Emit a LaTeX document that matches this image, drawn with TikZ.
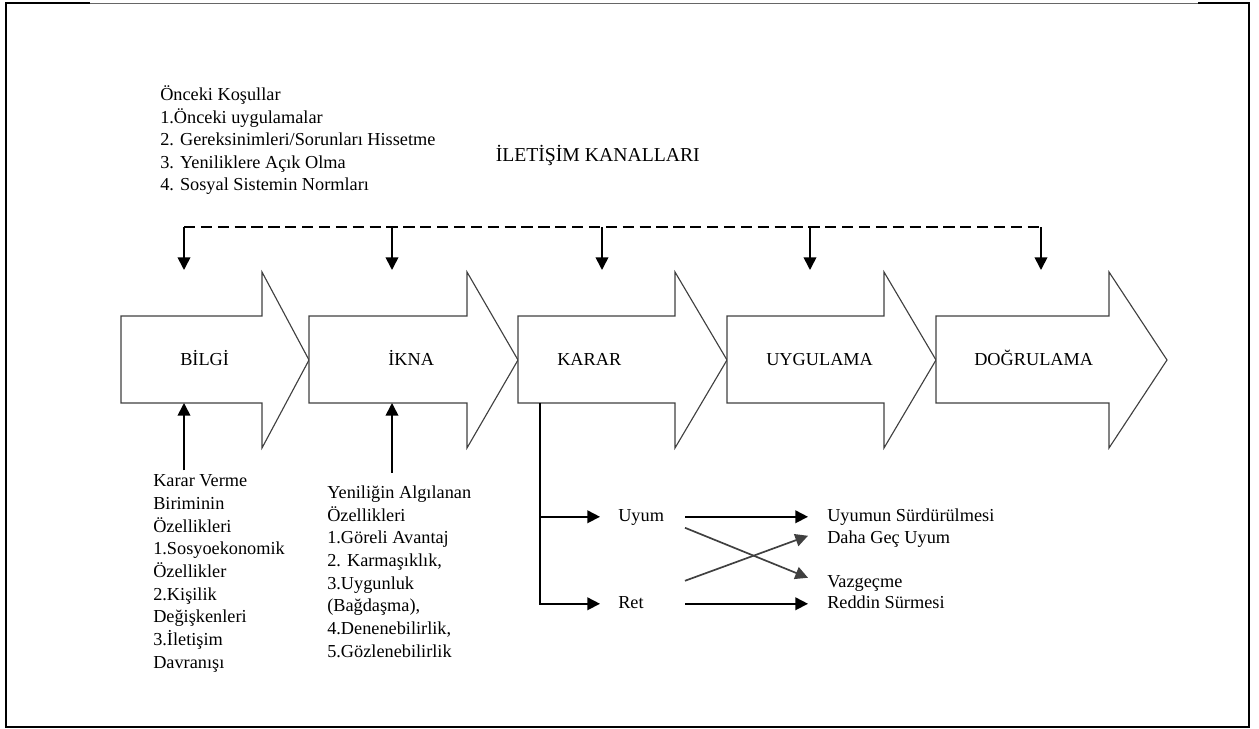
\documentclass[tikz,border=0pt]{standalone}
\usepackage{fontspec}
\setmainfont{Liberation Serif}
\usetikzlibrary{arrows.meta,calc,positioning}

\tikzset{
  txt/.style={inner sep=0pt, anchor=base west, align=left,
    font=\fontsize{13}{16.1}\selectfont},
  row/.style={txt, text height=9pt, text depth=3pt},
  phase/.style={draw=black!75, line width=0.8pt, fill=white},
  flow/.style={line width=1.2pt, -{Triangle[length=9pt,width=9pt]}},
  cross/.style={flow, draw=black!75, fill=black!75},
  plain/.style={line width=1.2pt}
}

\begin{document}
\begin{tikzpicture}[x=0.025cm, y=-0.025cm]
  \useasboundingbox (0,0) rectangle (1259,729);
  % frame
  \draw[black!60, line width=0.4pt] (90,3) -- (1198,3);
  \draw[line width=1.3pt] (90,3) -| (6,727) -| (1249,3) -- (1198,3);

  % stages
  \draw[phase] (121,316) -- (262,316) -- (262,272) -- (309,360) -- (262,448) -- (262,403) -- (121,403) -- cycle;
  \draw[phase] (309,316) -- (467,316) -- (467,272) -- (518,360) -- (467,448) -- (467,403) -- (309,403) -- cycle;
  \draw[phase] (518,316) -- (675,316) -- (675,272) -- (727,360) -- (675,448) -- (675,403) -- (518,403) -- cycle;
  \draw[phase] (727,316) -- (884,316) -- (884,272) -- (936,360) -- (884,448) -- (884,403) -- (727,403) -- cycle;
  \draw[phase] (936,316) -- (1109,316) -- (1109,272) -- (1167,360) -- (1109,448) -- (1109,403) -- (936,403) -- cycle;
  \node[row] (bilgi) at (180,365) {BİLGİ};
  \node[row] (ikna) at (388,365) {İKNA};
  \node[row] (karar) at (557,365) {KARAR};
  \node[row] (uygulama) at (766,365) {UYGULAMA};
  \node[row] (dogrulama) at (974,365) {DOĞRULAMA};

  % prior conditions and channels
  \node[txt] (kosul) at (160,191) {Önceki Koşullar\\1.Önceki uygulamalar\\2. Gereksinimleri/Sorunları Hissetme\\3. Yeniliklere Açık Olma\\4. Sosyal Sistemin Normları};
  \node[row, anchor=base east, font=\fontsize{14}{17}\selectfont] (kanal) at (700,162) {İLETİŞİM KANALLARI};

  \coordinate (k1) at (184,227);
  \coordinate (k2) at (392,227);
  \coordinate (k3) at (602,227);
  \coordinate (k4) at (810,227);
  \coordinate (k5) at (1041,227);
  \coordinate (t1) at (184,270);
  \coordinate (t2) at (392,270);
  \coordinate (t3) at (602,270);
  \coordinate (t4) at (810,270);
  \coordinate (t5) at (1041,270);
  \draw[line width=1pt, dash pattern=on 8pt off 4pt] (k1) -- (k5);
  \draw[flow] (k1) -- (t1);
  \draw[flow] (k2) -- (t2);
  \draw[flow] (k3) -- (t3);
  \draw[flow] (k4) -- (t4);
  \draw[flow] (k5) -- (t5);

  % characteristics
  \node[txt] (birim) at (153,668) {Karar Verme\\Biriminin\\Özellikleri\\1.Sosyoekonomik\\Özellikler\\2.Kişilik\\Değişkenleri\\3.İletişim\\Davranışı};
  \node[txt] (yenilik) at (327,657) {Yeniliğin Algılanan\\Özellikleri\\1.Göreli Avantaj\\2. Karmaşıklık,\\3.Uygunluk\\(Bağdaşma),\\4.Denenebilirlik,\\5.Gözlenebilirlik};
  \coordinate (bilgiB) at (184,403);
  \coordinate (iknaB) at (392,403);
  \draw[flow] ([yshift=3pt]birim.north -| bilgiB) -- (bilgiB);
  \draw[flow] ([yshift=9pt]yenilik.north -| iknaB) -- (iknaB);

  % decision outcomes
  \node[row] (uyum) at (618,521) {Uyum};
  \node[row] (ret) at (618,608) {Ret};
  \node[row] (surdur) at (827,521) {Uyumun Sürdürülmesi};
  \node[row] (gec) at (827,543) {Daha Geç Uyum};
  \node[row] (vazgec) at (827,587) {Vazgeçme};
  \node[row] (reddin) at (827,608) {Reddin Sürmesi};
  \coordinate (kararB) at (540,403);
  \coordinate (out) at (685,0);
  \draw[flow, shorten >=0.45cm] (kararB) |- (ret.west);
  \draw[flow, shorten >=0.45cm] (kararB |- uyum.west) -- (uyum.west);
  \draw[flow, shorten >=0.475cm] (uyum -| out) -- (surdur.west);
  \draw[flow, shorten >=0.475cm] (ret -| out) -- (reddin.west);
  \draw[cross] ($(uyum -| out)+(0,11)$) -- ($(vazgec.west)+(-19,-5)$);
  \draw[cross] ($(ret -| out)+(0,-23)$) -- ($(gec.west)+(-19,-3)$);
\end{tikzpicture}
\end{document}
